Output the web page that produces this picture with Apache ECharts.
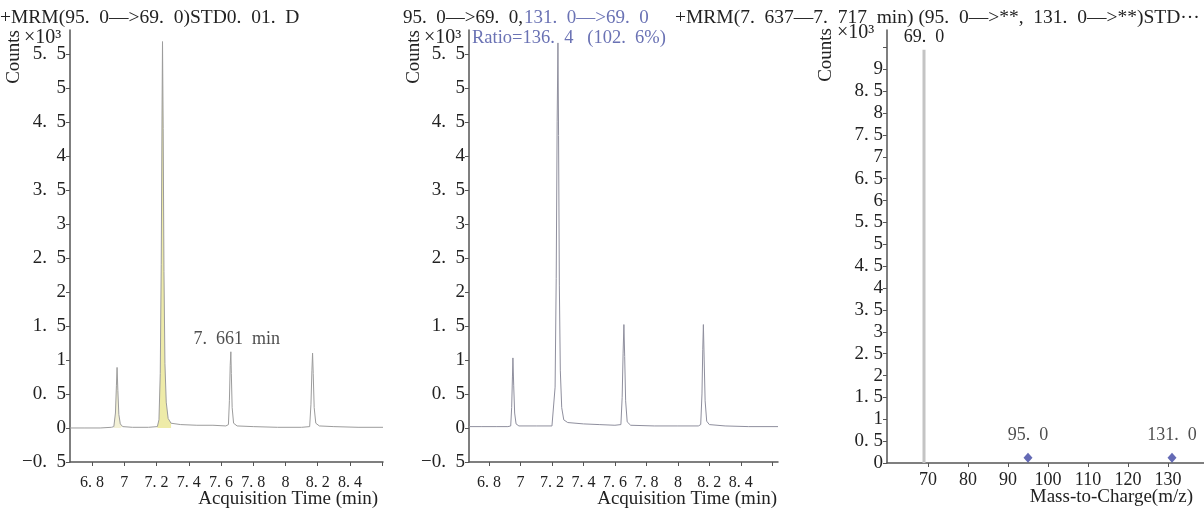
<!DOCTYPE html>
<html>
<head>
<meta charset="utf-8">
<title>MRM 95.0 -> 69.0</title>
<script src="https://cdn.jsdelivr.net/npm/echarts@6/dist/echarts.min.js"></script>
<style>
  html, body { margin: 0; padding: 0; background: #fff; }
  #chart { width: 1204px; height: 514px; }
</style>
</head>
<body>
<div id="chart"></div>
<script>
// Quantifier transition 95.0 -> 69.0, [time (min), counts x10^3]
const quantTrace = [
  [6.663, 0.00], [6.75, 0.00], [6.85, 0.00], [6.92, 0.01], [6.935, 0.02],
  [6.945, 0.22], [6.951, 0.62], [6.955, 0.89], [6.960, 0.55], [6.966, 0.20],
  [6.975, 0.06], [6.99, 0.02], [7.05, 0.01], [7.15, 0.01], [7.205, 0.02],
  [7.215, 0.12], [7.223, 0.80], [7.229, 2.40], [7.234, 4.60], [7.237, 5.68],
  [7.241, 4.40], [7.246, 2.30], [7.252, 0.95], [7.260, 0.38], [7.272, 0.14],
  [7.29, 0.07], [7.35, 0.05], [7.45, 0.04], [7.55, 0.04], [7.63, 0.03],
  [7.646, 0.05], [7.652, 0.40], [7.657, 0.92], [7.661, 1.12], [7.664, 0.80],
  [7.669, 0.30], [7.678, 0.07], [7.70, 0.03], [7.80, 0.02], [7.95, 0.01],
  [8.10, 0.01], [8.150, 0.02], [8.158, 0.35], [8.164, 0.85], [8.168, 1.10],
  [8.172, 0.80], [8.178, 0.30], [8.188, 0.07], [8.21, 0.03], [8.30, 0.02],
  [8.45, 0.01], [8.605, 0.01]
];

// Integrated region of the main peak
const quantPeakArea = [
  [7.205, 0.02], [7.215, 0.12], [7.223, 0.80], [7.229, 2.40], [7.234, 4.60],
  [7.237, 5.68], [7.241, 4.40], [7.246, 2.30], [7.252, 0.95], [7.260, 0.38],
  [7.272, 0.14], [7.29, 0.07]
];

// Early peak shading
const quantEarlyArea = [
  [6.935, 0.02], [6.945, 0.22], [6.951, 0.62], [6.955, 0.89], [6.960, 0.55],
  [6.966, 0.20], [6.975, 0.06], [6.99, 0.02]
];

// Retention time annotation of the target peak
const labelledPeak = [[7.661, 1.12]];

// Overlay of 95.0 -> 69.0 and 131.0 -> 69.0
const overlayTrace = [
  [6.673, 0.02], [6.75, 0.02], [6.85, 0.02], [6.92, 0.02], [6.938, 0.03],
  [6.944, 0.30], [6.949, 0.75], [6.952, 1.03], [6.957, 0.62], [6.963, 0.22],
  [6.972, 0.06], [6.99, 0.03], [7.10, 0.03], [7.20, 0.03], [7.212, 0.05],
  [7.220, 0.60], [7.227, 2.20], [7.233, 4.50], [7.238, 5.66], [7.242, 4.30],
  [7.247, 2.10], [7.253, 0.85], [7.262, 0.30], [7.275, 0.12], [7.30, 0.08],
  [7.40, 0.06], [7.50, 0.05], [7.60, 0.04], [7.638, 0.05], [7.646, 0.45],
  [7.652, 1.10], [7.657, 1.52], [7.662, 1.05], [7.668, 0.40], [7.678, 0.09],
  [7.70, 0.04], [7.85, 0.03], [8.00, 0.03], [8.13, 0.03], [8.145, 0.05],
  [8.153, 0.50], [8.158, 1.15], [8.162, 1.52], [8.167, 1.00], [8.173, 0.40],
  [8.183, 0.10], [8.20, 0.05], [8.30, 0.03], [8.45, 0.02], [8.636, 0.02]
];

// Product-ion spectrum at 7.637-7.717 min: m/z and counts x10^3
const productMz = [69.0];
const productCounts = [9.45];
const precursorMz = [95.0, 131.0];
const precursorCounts = [0.12, 0.12];

// Tick values
const timeTicks = [6.8, 7, 7.2, 7.4, 7.6, 7.8, 8, 8.2, 8.4, 8.6];
const timeLabels = [6.8, 7, 7.2, 7.4, 7.6, 7.8, 8, 8.2, 8.4];
const countTicks = [-0.5, 0, 0.5, 1, 1.5, 2, 2.5, 3, 3.5, 4, 4.5, 5, 5.5];
const mzTicks = [70, 80, 90, 100, 110, 120, 130];
const specTicks = [0, 0.5, 1, 1.5, 2, 2.5, 3, 3.5, 4, 4.5, 5, 5.5, 6, 6.5, 7, 7.5, 8, 8.5, 9, 9.5];
const specLabels = specTicks.slice(0, 19);

const FONT = '"Liberation Serif", "DejaVu Serif", serif';
const AXIS_COLOR = '#555';
const TEXT_COLOR = '#222';
const BLUE = '#6a72b4';

// Decimal point followed by a gap: "5.5" -> "5. 5", "-0.5" -> "−0. 5"
const GAP_MID = '  ';
const GAP_THIN = ' ';
function numText(v, gap) {
  return String(v).replace('.', '.' + gap).replace('-', '\u2212');
}
const fmtMid = v => numText(v, GAP_MID);
const fmtThin = v => numText(v, GAP_THIN);
const D = '.' + GAP_MID;

function timeAxis(gridIndex, min, max) {
  return {
    type: 'value', gridIndex, min, max,
    axisLine: { show: true, onZero: false, lineStyle: { color: AXIS_COLOR, width: 1.5 } },
    axisTick: { show: true, length: 4, customValues: timeTicks, lineStyle: { color: AXIS_COLOR } },
    axisLabel: {
      customValues: timeLabels, formatter: fmtThin, color: TEXT_COLOR,
      fontFamily: FONT, fontSize: 16, margin: 13, hideOverlap: false
    },
    splitLine: { show: false }
  };
}

function countAxis(gridIndex) {
  return {
    type: 'value', gridIndex, min: -0.5, max: 5.85,
    axisLine: { show: true, lineStyle: { color: AXIS_COLOR, width: 1.5 } },
    axisTick: { show: true, length: 4, customValues: countTicks, lineStyle: { color: AXIS_COLOR } },
    axisLabel: {
      customValues: countTicks, formatter: fmtMid, color: TEXT_COLOR,
      fontFamily: FONT, fontSize: 19, margin: 4
    },
    splitLine: { show: false }
  };
}

// Free-standing texts: axis captions and panel headings
function countsText(x, y) {
  return { type: 'text', left: x, top: y, rotation: Math.PI / 2,
    style: { text: 'Counts', font: '19px ' + FONT, fill: TEXT_COLOR } };
}
function scaleText(x, y) {
  return { type: 'text', left: x, top: y,
    style: { text: '\u00d710\u00b3', font: '20px ' + FONT, fill: TEXT_COLOR } };
}
function axisTitle(text, right, top) {
  return { type: 'text', right, top,
    style: { text, font: '19px ' + FONT, fill: TEXT_COLOR } };
}
function heading(text, x, y, size, color) {
  return { type: 'text', x, y,
    style: { text, font: size + 'px ' + FONT, fill: color, verticalAlign: 'middle' } };
}

const chart = echarts.init(document.getElementById('chart'), null, { renderer: 'canvas' });

chart.setOption({
  backgroundColor: '#fff',
  animation: false,
  textStyle: { fontFamily: FONT },
  graphic: [
    heading('+MRM(95' + D + '0\u2014>69' + D + '0)STD0' + D + '01' + D + 'D', 0, 18, 19.5, TEXT_COLOR),
    heading('95' + D + '0\u2014>69' + D + '0,', 403, 18, 19, TEXT_COLOR),
    heading('131' + D + '0\u2014>69' + D + '0', 524, 18, 19, BLUE),
    heading('+MRM(7' + D + '637\u20147' + D + '717  min) (95' + D + '0\u2014>**,  131' + D + '0\u2014>**)STD\u00b7\u00b7\u00b7',
      675, 18, 19.5, TEXT_COLOR),
    heading('Ratio=136' + D + '4   (102' + D + '6%)', 472, 38, 18.5, BLUE),
    countsText(5, 30), scaleText(24, 28),
    countsText(405, 30), scaleText(424, 28),
    countsText(817, 28), scaleText(837, 23),
    axisTitle('Acquisition Time (min)', 826, 490),
    axisTitle('Acquisition Time (min)', 427, 490),
    axisTitle('Mass-to-Charge(m/z)', 11, 488)
  ],
  grid: [
    { left: 70, top: 30, width: 313, height: 432, outerBoundsMode: 'none', containLabel: false },
    { left: 469, top: 30, width: 309, height: 432, outerBoundsMode: 'none', containLabel: false },
    { left: 887, top: 30, width: 317, height: 433, outerBoundsMode: 'none', containLabel: false }
  ],
  xAxis: [
    timeAxis(0, 6.663, 8.605),
    timeAxis(1, 6.673, 8.636),
    {
      type: 'value', gridIndex: 2, min: 59.75, max: 139,
      axisLine: { show: true, onZero: false, lineStyle: { color: AXIS_COLOR, width: 1.5 } },
      axisTick: { show: true, length: 4, customValues: mzTicks, lineStyle: { color: AXIS_COLOR } },
      axisLabel: {
        customValues: mzTicks, color: TEXT_COLOR, fontFamily: FONT, fontSize: 18,
        margin: 8, hideOverlap: false
      },
      splitLine: { show: false }
    }
  ],
  yAxis: [
    countAxis(0),
    countAxis(1),
    {
      type: 'value', gridIndex: 2, min: 0, max: 9.9,
      axisLine: { show: true, lineStyle: { color: AXIS_COLOR, width: 1.5 } },
      axisTick: { show: true, length: 4, customValues: specTicks, lineStyle: { color: AXIS_COLOR } },
      axisLabel: {
        customValues: specLabels, formatter: fmtThin, color: TEXT_COLOR,
        fontFamily: FONT, fontSize: 19, margin: 4
      },
      splitLine: { show: false }
    }
  ],
  series: [
    {
      type: 'line', xAxisIndex: 0, yAxisIndex: 0, data: quantPeakArea,
      symbol: 'none', lineStyle: { width: 0 },
      areaStyle: { color: '#eeeba8', opacity: 1, origin: 'auto' }, z: 1
    },
    {
      type: 'line', xAxisIndex: 0, yAxisIndex: 0, data: quantEarlyArea,
      symbol: 'none', lineStyle: { width: 0 },
      areaStyle: { color: '#f3f1d6', opacity: 1, origin: 'auto' }, z: 1
    },
    {
      type: 'line', xAxisIndex: 0, yAxisIndex: 0, data: quantTrace,
      symbol: 'none', lineStyle: { color: '#9c9c9c', width: 1 }, z: 2
    },
    {
      type: 'scatter', xAxisIndex: 0, yAxisIndex: 0, data: labelledPeak,
      symbol: 'circle', symbolSize: 2, itemStyle: { color: 'rgba(0,0,0,0)' }, z: 3,
      label: {
        show: true, position: 'top', distance: 3, offset: [6, 0],
        formatter: p => fmtMid(p.value[0].toFixed(3)) + '  min',
        color: TEXT_COLOR, fontFamily: FONT, fontSize: 18
      }
    },
    {
      type: 'line', xAxisIndex: 1, yAxisIndex: 1, data: overlayTrace,
      symbol: 'none', lineStyle: { color: '#8f8f9e', width: 1 }
    },
    {
      type: 'bar', xAxisIndex: 2, yAxisIndex: 2,
      data: productMz.map((m, i) => [m, productCounts[i]]),
      barWidth: 3, itemStyle: { color: '#c4c4c4' },
      label: {
        show: true, position: 'top', distance: 3,
        formatter: p => fmtMid(p.value[0].toFixed(1)),
        color: TEXT_COLOR, fontFamily: FONT, fontSize: 18
      }
    },
    {
      type: 'scatter', xAxisIndex: 2, yAxisIndex: 2,
      data: precursorMz.map((m, i) => [m, precursorCounts[i]]),
      symbol: 'diamond', symbolSize: [9, 10],
      itemStyle: { color: '#3d45a3' },
      label: {
        show: true, position: 'top', distance: 8,
        formatter: p => fmtMid(p.value[0].toFixed(1)),
        color: TEXT_COLOR, fontFamily: FONT, fontSize: 18
      }
    }
  ]
});
</script>
</body>
</html>
